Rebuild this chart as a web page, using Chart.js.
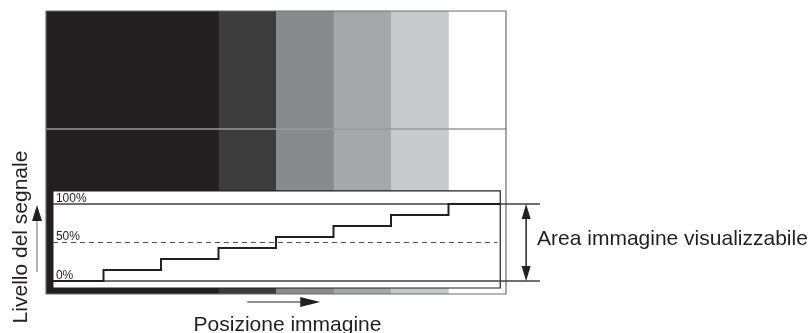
<!DOCTYPE html>
<html>
<head>
<meta charset="utf-8">
<script src="https://cdn.jsdelivr.net/npm/chart.js@4"></script>
<style>
  html, body { margin: 0; padding: 0; background: #ffffff; }
  #wrap { width: 812px; height: 333px; position: relative; }
</style>
</head>
<body>
<div id="wrap"><canvas id="canvasGrafica" width="812" height="333"></canvas></div>
<script>
// grey bars of the test pattern (image position units, 8 = full width)
var swatchStart = [0, 3, 4, 5, 6, 7];
var swatchEnd = [3, 4, 5, 6, 7, 8];
var swatchShade = ['#231f20', '#3c3c3c', '#898a8e', '#a6a7ab', '#c8c9cb', '#ffffff'];

// signal level staircase (%)
var stepPos = [0.12, 1, 2, 3, 4, 5, 6, 7, 7.9];
var stepLevel = [0, 14.3, 28.6, 42.9, 57.1, 71.4, 85.7, 100, 100];

// reference levels
var levelTicks = [0, 50, 100];
var levelLabels = ['0%', '50%', '100%'];

// frame of the signal window and the horizontal divider of the pattern
var boxLeft = 0.12, boxRight = 7.9, boxTop = 116.9, boxBottom = -9.1;
var dividerLevel = 197.4;
var refLineEnd = 8.59;

var titleX = 'Posizione immagine';
var titleY = 'Livello del segnale';
var areaLabel = 'Area immagine visualizzabile';

document.addEventListener("DOMContentLoaded", function () {
    var canvasGrafica = document.getElementById("canvasGrafica");
    var datasets = [];
    var patternEnd = swatchEnd[swatchEnd.length - 1];

    // each bar is filled up to the end of the pattern and the next one covers it,
    // so no light seam shows between neighbouring bars
    for (let i = 0; i < swatchStart.length; i++) {
        datasets.push({
            data: [{x: swatchStart[i], y: 400}, {x: patternEnd, y: 400}],
            backgroundColor: swatchShade[i],
            borderWidth: 0,
            fill: 'start',
            order: 40 - i
        });
    }

    datasets.push({
        data: [{x: 0, y: dividerLevel}, {x: 8, y: dividerLevel}],
        borderColor: '#9a9a9a',
        borderWidth: 1.5,
        order: 19
    });

    // outer frame
    datasets.push({
        data: [{x: 0, y: -16.9}, {x: 0, y: 350.6}, {x: 8, y: 350.6}, {x: 8, y: -16.9}, {x: 0, y: -16.9}],
        borderColor: '#6d6e71',
        borderWidth: 1.2,
        order: 18
    });

    // white signal window
    datasets.push({
        data: [{x: boxLeft, y: boxTop}, {x: boxRight, y: boxTop}],
        backgroundColor: '#ffffff',
        borderWidth: 0,
        fill: {value: boxBottom},
        order: 17
    });
    datasets.push({
        data: [{x: boxLeft, y: boxBottom}, {x: boxLeft, y: boxTop}, {x: boxRight, y: boxTop},
               {x: boxRight, y: boxBottom}, {x: boxLeft, y: boxBottom}],
        borderColor: '#231f20',
        borderWidth: 1.2,
        order: 16
    });

    for (let i = 0; i < levelTicks.length; i++) {
        var mid = levelTicks[i] == 50;
        datasets.push({
            data: [{x: boxLeft, y: levelTicks[i]}, {x: mid ? boxRight - 0.05 : refLineEnd, y: levelTicks[i]}],
            borderColor: mid ? '#4d4d4f' : '#3f3f3f',
            borderWidth: mid ? 1 : 1.3,
            borderDash: mid ? [5, 4] : [],
            order: 10
        });
    }

    datasets.push({
        data: stepPos.map(function (p, i) { return {x: p, y: stepLevel[i]}; }),
        borderColor: '#231f20',
        borderWidth: 2,
        stepped: 'before',
        order: 1
    });

    var annotazioni = {
        id: 'annotazioni',
        afterDatasetsDraw: function (chart) {
            var ctx = chart.ctx;
            var sx = chart.scales.x;
            var sy = chart.scales.y;
            ctx.save();
            ctx.fillStyle = '#231f20';
            ctx.strokeStyle = '#231f20';

            ctx.font = '12px "Liberation Sans", Arial, sans-serif';
            ctx.textBaseline = 'alphabetic';
            ctx.textAlign = 'left';
            for (let i = 0; i < levelTicks.length; i++) {
                ctx.fillText(levelLabels[i], sx.getPixelForValue(boxLeft) + 3, sy.getPixelForValue(levelTicks[i]) - 2);
            }

            // double arrow for the visible area
            var ax = sx.getPixelForValue(8.35);
            var y0 = sy.getPixelForValue(0), y1 = sy.getPixelForValue(100);
            ctx.lineWidth = 1.5;
            ctx.beginPath();
            ctx.moveTo(ax, y1 + 10);
            ctx.lineTo(ax, y0 - 10);
            ctx.stroke();
            flecha(ctx, ax, y1, 0, -1, 15, 4.5);
            flecha(ctx, ax, y0, 0, 1, 15, 4.5);

            ctx.font = '21px "Liberation Sans", Arial, sans-serif';
            ctx.textBaseline = 'alphabetic';
            ctx.fillText(areaLabel, sx.getPixelForValue(8.54), sy.getPixelForValue(50) + 3);

            // horizontal arrow and x title
            var hy = 302;
            ctx.lineWidth = 1.2;
            ctx.beginPath();
            ctx.moveTo(sx.getPixelForValue(3.5), hy);
            ctx.lineTo(sx.getPixelForValue(4.6), hy);
            ctx.stroke();
            flecha(ctx, sx.getPixelForValue(4.77), hy, 1, 0, 20, 5);
            ctx.textAlign = 'center';
            ctx.fillText(titleX, sx.getPixelForValue(4.2), 331);

            // vertical arrow and y title
            ctx.strokeStyle = '#808080';
            ctx.beginPath();
            ctx.moveTo(37, 272);
            ctx.lineTo(37, 215);
            ctx.stroke();
            flecha(ctx, 37, 205, 0, -1, 16, 5);

            ctx.translate(27, 237);
            ctx.rotate(-Math.PI / 2);
            ctx.textAlign = 'center';
            ctx.fillText(titleY, 0, 0);
            ctx.restore();
        }
    };

    new Chart(canvasGrafica, {
        type: 'line',
        data: {datasets: datasets},
        options: {
            responsive: false,
            animation: false,
            events: [],
            layout: {padding: {left: 46, top: 11, right: 306, bottom: 39}},
            datasets: {line: {pointRadius: 0, tension: 0, clip: false}},
            plugins: {legend: {display: false}, tooltip: {enabled: false}},
            scales: {
                x: {type: 'linear', min: 0, max: 8, display: false},
                y: {type: 'linear', min: -16.9, max: 350.6, display: false}
            }
        },
        plugins: [annotazioni]
    });
});

function flecha(ctx, x, y, dx, dy, largo, ancho) {
    ctx.beginPath();
    ctx.moveTo(x, y);
    ctx.lineTo(x - dx * largo - dy * ancho, y - dy * largo + dx * ancho);
    ctx.lineTo(x - dx * largo + dy * ancho, y - dy * largo - dx * ancho);
    ctx.closePath();
    ctx.fill();
}
</script>
</body>
</html>
